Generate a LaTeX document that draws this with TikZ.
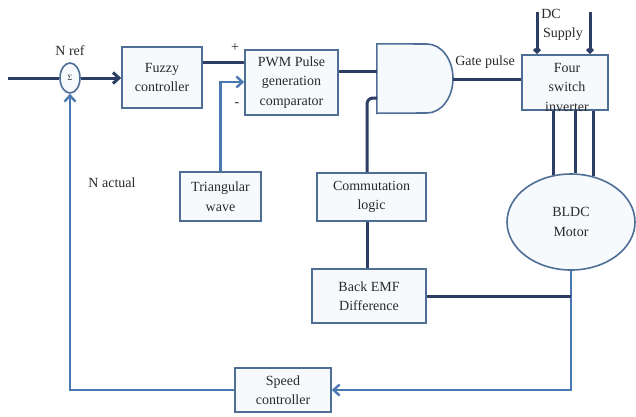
\documentclass[tikz,border=0pt]{standalone}
\usepackage{fontspec}
\setmainfont{Liberation Serif}
\usetikzlibrary{arrows.meta,shapes.geometric}
\definecolor{boxc}{HTML}{4F6E96}
\definecolor{darkl}{HTML}{2C3E63}
\definecolor{lightl}{HTML}{4A78B0}
\definecolor{fillc}{HTML}{F7FAFD}
\definecolor{txt}{HTML}{2A2A2A}
\begin{document}
\begin{tikzpicture}[x=1pt,y=-1pt,
  font=\fontsize{14}{19.5}\selectfont,
  blk/.style={draw=boxc, line width=1.6pt, fill=fillc, inner sep=0pt, align=center, text=txt},
  dk/.style={draw=darkl, line width=3pt},
  lt/.style={draw=lightl, line width=2.4pt},
  arr/.style={-{Straight Barb[length=6pt,width=11pt]}},
  lbl/.style={inner sep=0pt, text=txt}]

\useasboundingbox[fill=white] (0,0) rectangle (636,416);

% blocks
\node[blk, minimum width=80pt, minimum height=61pt] (fuzzy) at (162,77.5) {Fuzzy\\controller};
\node[blk, minimum width=93pt, minimum height=65pt] (pwm) at (291.5,82.5) {PWM Pulse\\generation\\comparator};
\node[blk, minimum width=81pt, minimum height=49pt] (tri) at (220.5,196.5) {Triangular\\wave};
\node[blk, minimum width=109pt, minimum height=48pt] (comm) at (371.5,197) {Commutation\\logic};
\node[blk, minimum width=114pt, minimum height=54pt] (bemf) at (369,296) {Back EMF\\Difference};
\node[blk, minimum width=96pt, minimum height=44pt] (spd) at (283,390) {Speed\\controller};
\node[blk, minimum width=86pt, minimum height=55pt] (inv) at (565,82.5) {};
\node[lbl, align=center] (invtxt) at (567,87) {Four\\switch\\inverter};
\node[blk, ellipse, minimum width=128pt, minimum height=96pt] (motor) at (571,222) {BLDC\\Motor};
\node[blk, ellipse, minimum width=20pt, minimum height=30pt] (sum) at (70,78) {\fontsize{8}{8}\selectfont Σ};

% AND gate
\node[minimum width=76pt, minimum height=69pt, inner sep=0pt] (gate) at (415,78.5) {};
\draw[draw=boxc, line width=1.6pt, fill=fillc] (gate.north west) -- (427,44) arc(-90:90:26 and 34.5) -- (gate.south west) -- cycle;
\coordinate (gin1) at (377,71);
\coordinate (gin2) at (377,98);
\coordinate (gout) at (453,79);
\coordinate (cl) at (367,0);

% labels
\node[lbl] (nref) at (70,51) {N ref};
\node[lbl] (nact) at (112,183) {N actual};
\node[lbl] (plus) at (235,48) {+};
\node[lbl] (minus) at (237,105) {-};
\node[lbl] (gp) at (485,62) {Gate pulse};
\node[lbl] (dc) at (551,14) {DC};
\node[lbl] (sup) at (563,34) {Supply};

% dark connectors
\coordinate (in) at (8,78);
\draw[dk] (in) -- (sum.west);
\draw[dk,arr] (sum.east) -- (fuzzy.west |- sum.east);
\coordinate (f2p) at (0,62);
\draw[dk] (fuzzy.east |- f2p) -- (pwm.west |- f2p);
\draw[dk] (pwm.east |- gin1) -- (gin1);
\draw[dk, rounded corners=6pt] (comm.north -| cl) |- (gin2);
\draw[dk] (comm.south -| cl) -- (bemf.north -| cl);
\draw[dk] (gout) -- (inv.west |- gout);
\coordinate (dc1) at (537,12);
\coordinate (dc2) at (590,12);
\draw[dk,-{Straight Barb[length=3pt,width=6pt]}] (dc1) -- (inv.north -| dc1);
\draw[dk,-{Straight Barb[length=3pt,width=6pt]}] (dc2) -- (inv.north -| dc2);
\draw[dk] (inv.south -| motor.111) -- (motor.111);
\draw[dk] (inv.south -| motor.85) -- (motor.85);
\draw[dk] (inv.south -| motor.64) -- (motor.64);

% light connectors
\coordinate (tpt) at (0,82);
\draw[lt,arr] (tri.north) |- (pwm.west |- tpt);
\draw[lt,arr] (motor.south) |- (spd.east);
\draw[dk] (bemf.east) -- (bemf.east -| motor.south);
\draw[lt,arr] (spd.west) -| (sum.south);
\end{tikzpicture}
\end{document}
